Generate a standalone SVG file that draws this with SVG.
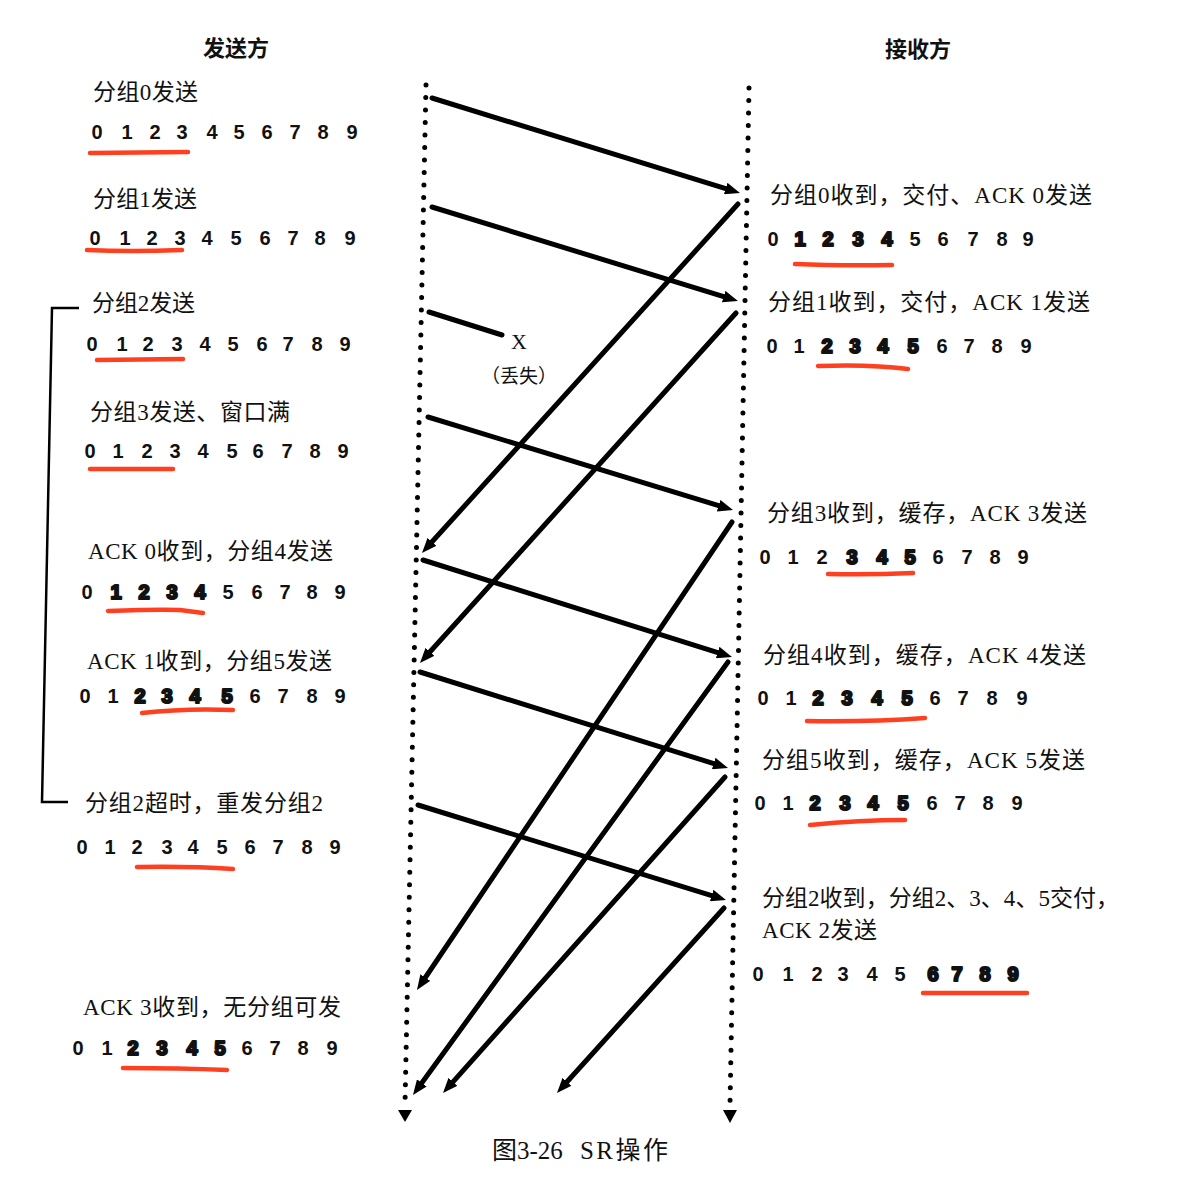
<svg xmlns="http://www.w3.org/2000/svg" width="1196" height="1190" viewBox="0 0 1196 1190">
<style>
.lbl{font-family:"Liberation Serif","Noto Sans CJK SC",serif;font-size:23px;fill:#111}
.hdr{font-family:"Liberation Serif","Noto Sans CJK SC",serif;font-size:22px;font-weight:bold;fill:#111;text-anchor:middle}
.num{font-family:"Liberation Sans",Arial,sans-serif;font-size:20px;font-weight:bold;fill:#111;text-anchor:middle}
.blot{stroke:#111;stroke-width:2.2;stroke-linejoin:round}
.ul{fill:none;stroke:#ff4020;stroke-width:4.5;stroke-linecap:round}
.msg{fill:none;stroke:#000;stroke-width:5;stroke-linecap:round}
.life{fill:none;stroke:#000;stroke-width:5;stroke-linecap:round;stroke-dasharray:0 12.5}
.cap{font-family:"Liberation Serif","Noto Sans CJK SC",serif;font-size:25px;fill:#111}
</style>
<defs>
<marker id="ah" viewBox="0 0 15 12" refX="6" refY="6" markerWidth="15" markerHeight="12" markerUnits="userSpaceOnUse" orient="auto">
<path d="M0,0 L15,6 L0,12 z" fill="#000"/>
</marker>
</defs>
<rect width="1196" height="1190" fill="#fff"/>

<g id="headers">
<text class="hdr" x="236" y="56">发送方</text>
<text class="hdr" x="918" y="57">接收方</text>
</g>

<g id="lifelines">
<line class="life" x1="426" y1="85" x2="405" y2="1104"/>
<polygon points="398,1110 412,1110 405,1122" fill="#000"/>
<line class="life" x1="749" y1="88" x2="730" y2="1104"/>
<polygon points="723,1110 737,1110 730,1123" fill="#000"/>
</g>

<g id="bracket">
<path d="M79,308 L52,308 L42,802 L68,802" fill="none" stroke="#000" stroke-width="2.5"/>
</g>

<g id="connectors">
<line class="msg" x1="432" y1="98" x2="731.4" y2="190.3" marker-end="url(#ah)"/>
<line class="msg" x1="432" y1="207" x2="729.4" y2="298.4" marker-end="url(#ah)"/>
<line class="msg" x1="429" y1="312" x2="502" y2="335"/>
<line class="msg" x1="428" y1="417" x2="724.4" y2="507.4" marker-end="url(#ah)"/>
<line class="msg" x1="423" y1="560" x2="723.4" y2="654.3" marker-end="url(#ah)"/>
<line class="msg" x1="420" y1="672" x2="719.4" y2="765.3" marker-end="url(#ah)"/>
<line class="msg" x1="418" y1="805" x2="717.4" y2="897.3" marker-end="url(#ah)"/>
<line class="msg" x1="738" y1="204" x2="428" y2="546.3" marker-end="url(#ah)"/>
<line class="msg" x1="736" y1="313" x2="426" y2="656.3" marker-end="url(#ah)"/>
<line class="msg" x1="732" y1="522" x2="422" y2="982.5" marker-end="url(#ah)"/>
<line class="msg" x1="728" y1="662" x2="418.3" y2="1087.7" marker-end="url(#ah)"/>
<line class="msg" x1="725" y1="777" x2="449" y2="1086.3" marker-end="url(#ah)"/>
<line class="msg" x1="724" y1="908" x2="563" y2="1086.3" marker-end="url(#ah)"/>
</g>

<g id="loss">
<text x="519" y="349" font-family="Liberation Serif,serif" font-size="22" text-anchor="middle" fill="#111">X</text>
<text x="519" y="383" font-family="'Noto Sans CJK SC',sans-serif" font-size="19" text-anchor="middle" fill="#111">（丢失）</text>
</g>

<g id="s1">
<text class="lbl" x="93" y="100" textLength="105" lengthAdjust="spacing">分组0发送</text>
<text class="num" y="139"><tspan x="97 127 155 182 212 239 267 295 323 352">0123456789</tspan></text>
<path class="ul" d="M90,153 L188,152"/>
</g>
<g id="s2">
<text class="lbl" x="93" y="207" textLength="104" lengthAdjust="spacing">分组1发送</text>
<text class="num" y="245"><tspan x="95 125 152 180 207 236 265 293 320 350">0123456789</tspan></text>
<path class="ul" d="M87,250 Q130,252 182,250"/>
</g>
<g id="s3">
<text class="lbl" x="92" y="311" textLength="103" lengthAdjust="spacing">分组2发送</text>
<text class="num" y="351"><tspan x="92 122 148 177 205 233 262 288 317 345">0123456789</tspan></text>
<path class="ul" d="M97,360 L183,359"/>
</g>
<g id="s4">
<text class="lbl" x="90" y="420" textLength="200" lengthAdjust="spacing">分组3发送、窗口满</text>
<text class="num" y="458"><tspan x="90 118 147 175 203 232 258 287 315 343">0123456789</tspan></text>
<path class="ul" d="M90,469 L173,469"/>
</g>
<g id="s5">
<text class="lbl" x="88" y="559" textLength="245" lengthAdjust="spacing">ACK 0收到，分组4发送</text>
<text class="num" y="599"><tspan x="87">0</tspan><tspan class="blot" x="116 144 172 200">1234</tspan><tspan x="228 257 285 312 340">56789</tspan></text>
<path class="ul" d="M108,611 Q160,609 180,610 Q195,612 203,613"/>
</g>
<g id="s6">
<text class="lbl" x="87" y="669" textLength="245" lengthAdjust="spacing">ACK 1收到，分组5发送</text>
<text class="num" y="703"><tspan x="85 113">01</tspan><tspan class="blot" x="140 167 195 227">2345</tspan><tspan x="255 283 312 340">6789</tspan></text>
<path class="ul" d="M142,713 Q185,708 233,710"/>
</g>
<g id="s7">
<text class="lbl" x="85" y="811" textLength="238" lengthAdjust="spacing">分组2超时，重发分组2</text>
<text class="num" y="854"><tspan x="82 110 137 167 193 222 250 278 307 335">0123456789</tspan></text>
<path class="ul" d="M137,867 Q190,866 233,869"/>
</g>
<g id="s8">
<text class="lbl" x="83" y="1015" textLength="258" lengthAdjust="spacing">ACK 3收到，无分组可发</text>
<text class="num" y="1055"><tspan x="78 107">01</tspan><tspan class="blot" x="133 162 192 220">2345</tspan><tspan x="247 275 303 332">6789</tspan></text>
<path class="ul" d="M123,1068 Q180,1068 227,1070"/>
</g>

<g id="r1">
<text class="lbl" x="770" y="203" textLength="322" lengthAdjust="spacing">分组0收到，交付、ACK 0发送</text>
<text class="num" y="246"><tspan x="773">0</tspan><tspan class="blot" x="800 828 858 887">1234</tspan><tspan x="915 943 973 1002 1028">56789</tspan></text>
<path class="ul" d="M795,264 Q840,266 892,265"/>
</g>
<g id="r2">
<text class="lbl" x="768" y="310" textLength="322" lengthAdjust="spacing">分组1收到，交付，ACK 1发送</text>
<text class="num" y="353"><tspan x="772 799">01</tspan><tspan class="blot" x="827 855 883 913">2345</tspan><tspan x="942 969 997 1026">6789</tspan></text>
<path class="ul" d="M818,366 Q870,364 908,369"/>
</g>
<g id="r3">
<text class="lbl" x="767" y="521" textLength="320" lengthAdjust="spacing">分组3收到，缓存，ACK 3发送</text>
<text class="num" y="564"><tspan x="765 793 822">012</tspan><tspan class="blot" x="852 882 910">345</tspan><tspan x="938 967 995 1023">6789</tspan></text>
<path class="ul" d="M828,574 Q870,575 913,573"/>
</g>
<g id="r4">
<text class="lbl" x="763" y="663" textLength="323" lengthAdjust="spacing">分组4收到，缓存，ACK 4发送</text>
<text class="num" y="705"><tspan x="763 791">01</tspan><tspan class="blot" x="818 847 877 907">2345</tspan><tspan x="935 963 992 1022">6789</tspan></text>
<path class="ul" d="M807,721 Q870,722 925,718"/>
</g>
<g id="r5">
<text class="lbl" x="762" y="768" textLength="323" lengthAdjust="spacing">分组5收到，缓存，ACK 5发送</text>
<text class="num" y="810"><tspan x="760 788">01</tspan><tspan class="blot" x="815 845 873 903">2345</tspan><tspan x="932 960 988 1017">6789</tspan></text>
<path class="ul" d="M810,825 Q860,820 905,820"/>
</g>
<g id="r6">
<text class="lbl" x="762" y="906" textLength="357" lengthAdjust="spacing">分组2收到，分组2、3、4、5交付，</text>
<text class="lbl" x="762" y="938" textLength="115" lengthAdjust="spacing">ACK 2发送</text>
<text class="num" y="981"><tspan x="758 788 817 843 872 900">012345</tspan><tspan class="blot" x="933 957 985 1013">6789</tspan></text>
<path class="ul" d="M923,993 L1027,993"/>
</g>

<g id="caption">
<text class="cap" x="492" y="1159">图3-26</text>
<text class="cap" x="580" y="1159" textLength="88" lengthAdjust="spacing">SR操作</text>
</g>
</svg>
